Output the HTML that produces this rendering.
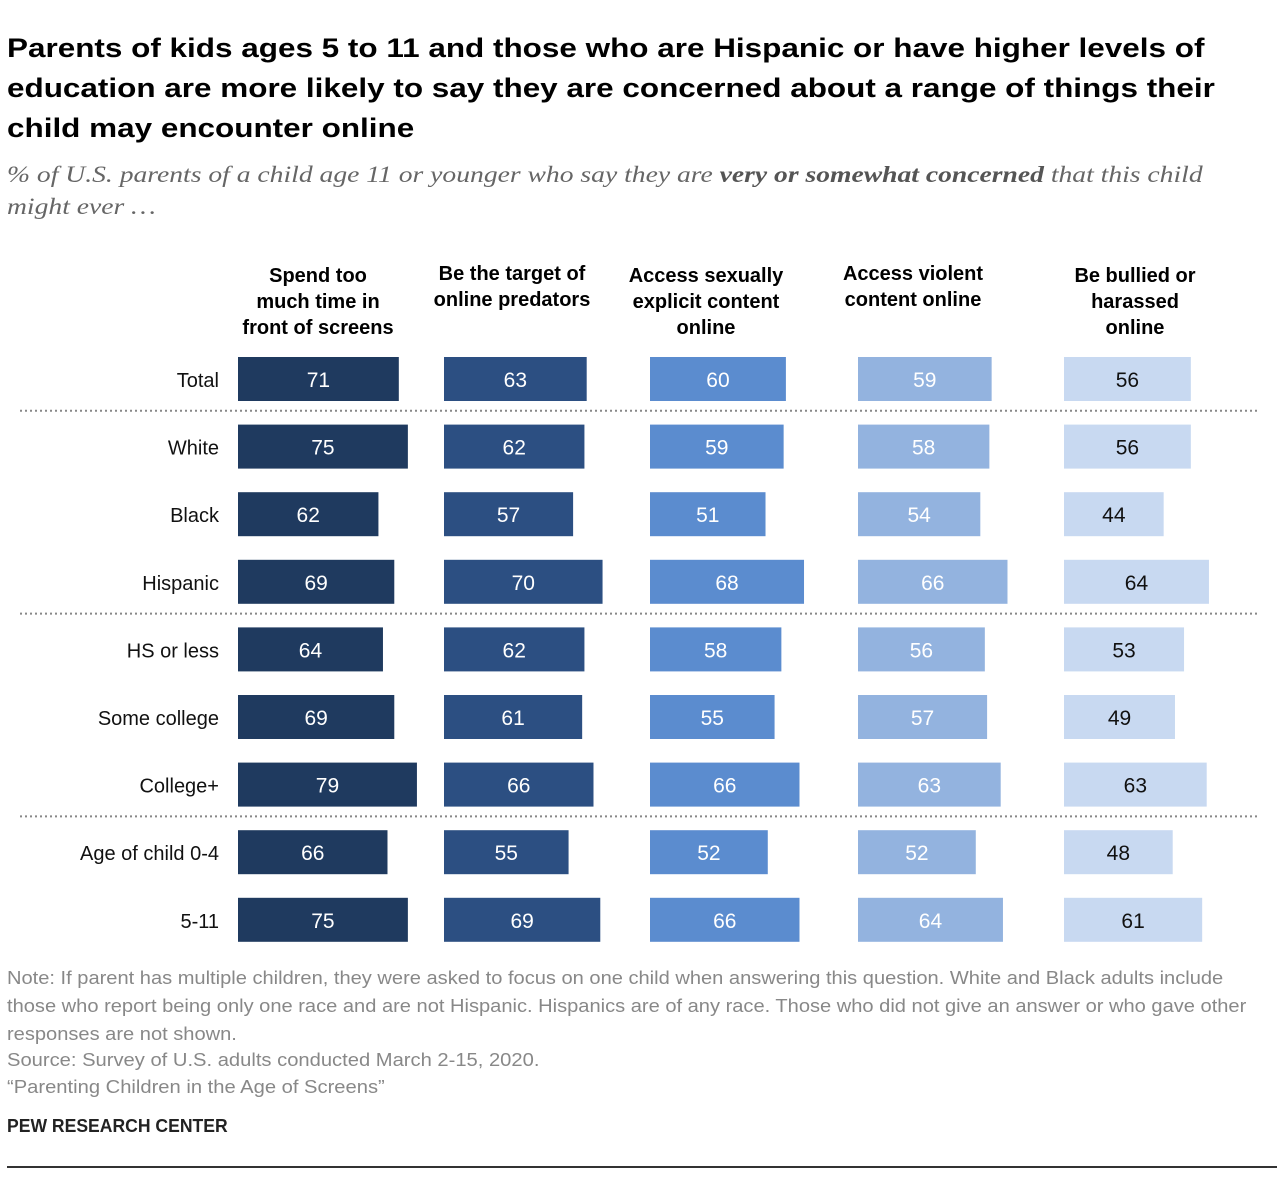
<!DOCTYPE html>
<html><head><meta charset="utf-8"><style>
body{margin:0;background:#fff;width:1280px;height:1178px;position:relative;font-family:"Liberation Sans",sans-serif;overflow:hidden}
.t{position:absolute;white-space:nowrap;transform-origin:0 0}
</style></head><body>
<div class="t" style="left:7px;top:28px;font-size:27px;font-weight:bold;line-height:40px;color:#000;transform:scaleX(1.165)">Parents of kids ages 5 to 11 and those who are Hispanic or have higher levels of<br>education are more likely to say they are concerned about a range of things their<br>child may encounter online</div>
<div class="t" style="left:7px;top:159px;font-family:'Liberation Serif',serif;font-style:italic;font-size:23px;line-height:32px;color:#666;transform:scaleX(1.2)">% of U.S. parents of a child age 11 or younger who say they are <b style="color:#555">very or somewhat concerned</b> that this child<br>might ever …</div>
<svg id="chart" width="1280" height="960" style="position:absolute;left:0;top:0"></svg>
<div class="t" style="left:7px;top:964px;font-size:18.5px;line-height:28px;color:#888;transform:scaleX(1.085)">Note: If parent has multiple children, they were asked to focus on one child when answering this question. White and Black adults include<br>those who report being only one race and are not Hispanic. Hispanics are of any race. Those who did not give an answer or who gave other<br>responses are not shown.</div>
<div class="t" style="left:7px;top:1046px;font-size:18.5px;line-height:27px;color:#888;transform:scaleX(1.09)">Source: Survey of U.S. adults conducted March 2-15, 2020.<br>“Parenting Children in the Age of Screens”</div>
<div class="t" style="left:7px;top:1115px;font-size:18.5px;font-weight:bold;color:#222;transform:scaleX(0.95)">PEW RESEARCH CENTER</div>
<div style="position:absolute;left:7px;top:1166px;width:1270px;height:2px;background:#333"></div>
<script>
const categories=["Total","White","Black","Hispanic","HS or less","Some college","College+","Age of child 0-4","5-11"];
const headers=[["Spend too","much time in","front of screens"],["Be the target of","online predators"],["Access sexually","explicit content","online"],["Access violent","content online"],["Be bullied or","harassed","online"]];
const screens=[71,75,62,69,64,69,79,66,75];
const predators=[63,62,57,70,62,61,66,55,69];
const explicit=[60,59,51,68,58,55,66,52,66];
const violent=[59,58,54,66,56,57,63,52,64];
const bullied=[56,56,44,64,53,49,63,48,61];
const series=[screens,predators,explicit,violent,bullied];
const separatorsAfter=[0,3,6];
const colors=["#1f3a5f","#2c4f82","#5b8ccf","#93b3df","#c8d9f1"];
const textColors=["#fff","#fff","#fff","#fff","#111"];
const colX=[238,444,650,858,1064],headC=[318,512,706,913,1135];
const svg=document.getElementById('chart'),NS="http://www.w3.org/2000/svg";
const xs=v=>v*2.265;
const rowTop=i=>357+i*67.6;
function mk(tag,a){const e=document.createElementNS(NS,tag);for(const k in a)e.setAttribute(k,a[k]);svg.appendChild(e);return e;}
headers.forEach((h,j)=>{
  const base=h.length===2?280:282;
  h.forEach((ln,k)=>{const t=mk('text',{x:headC[j],y:base+k*26,'text-anchor':'middle','font-size':20,'font-weight':'bold',fill:'#000'});t.textContent=ln;
  
  });
});
categories.forEach((c,i)=>{
  const y=rowTop(i);
  const t=mk('text',{x:219,y:y+30,'text-anchor':'end','font-size':20,fill:'#111'});t.textContent=c;
  
  
  series.forEach((s,j)=>{
    const w=xs(s[i]);
    const r=mk('rect',{x:colX[j],y:y,width:w,height:44,fill:colors[j]});
    
    
    const v=mk('text',{x:colX[j]+w/2,y:y+30,'text-anchor':'middle','font-size':21,fill:textColors[j]});v.textContent=s[i];
    
    
  });
});
separatorsAfter.forEach(i=>{
  const y=(rowTop(i)+44+rowTop(i+1))/2-2;
  const l=mk('line',{x1:20,x2:1258,y1:y,y2:y,stroke:'#888','stroke-width':2,'stroke-dasharray':'2,3'});
  
  
});
</script>
</body></html>
